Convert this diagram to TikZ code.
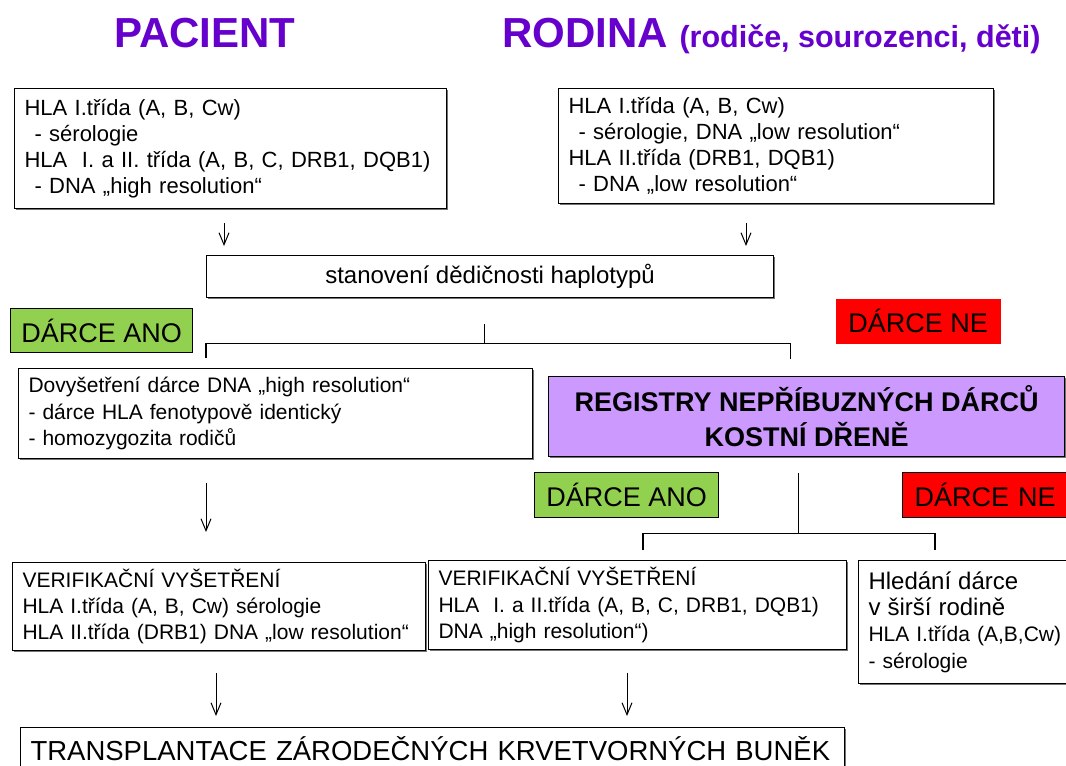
\documentclass[tikz,border=0pt]{standalone}
\usepackage{fontspec}
\setmainfont{Liberation Sans}
\usetikzlibrary{arrows.meta,shadows}
\definecolor{titlepurple}{HTML}{6600CC}
\definecolor{regpurple}{HTML}{CC99FF}
\definecolor{anogreen}{HTML}{92D050}
\definecolor{nered}{HTML}{FF0000}
\begin{document}
\begin{tikzpicture}[x=1pt,y=-1pt,
    box/.style={draw, line width=1.1pt, fill=white, anchor=north west, align=left,
      inner xsep=10pt, inner ysep=0pt,
      drop shadow={shadow xshift=1pt, shadow yshift=-1.5pt, fill=black!55, opacity=1},
      font=\fontsize{22}{26}\selectfont},
    smallbox/.style={box, font=\fontsize{21}{26.3}\selectfont},
    tag/.style={draw, line width=1.1pt, anchor=north west, inner sep=0pt,
      font=\fontsize{27}{30}\selectfont},
    title/.style={text=titlepurple, font=\fontsize{42}{46}\selectfont\bfseries},
    arr/.style={-{Straight Barb[length=12pt,width=10pt]}, line width=1pt},
    tree/.style={line width=1.1pt}]
  \useasboundingbox (0,0) rectangle (1066,766);
  \clip (0,0) rectangle (1066,766);
  % Titles
  \node[title, anchor=base] (pactitle) at (205,47) {PACIENT};
  \node[title, anchor=base west, inner sep=0pt] (famtitle) at (502,47)
    {RODINA \fontsize{30.5}{34}\selectfont(rodiče, sourozenci, děti)};
  % HLA typing of patient and family
  \node[box, text width=412pt, minimum height=120pt] (pac) at (14,88)
    {HLA I.třída (A, B, Cw)\\\hspace{10pt}- sérologie\\HLA \ I. a II. třída (A, B, C, DRB1, DQB1)\\\hspace{10pt}- DNA „high resolution“};
  \node[box, text width=415pt, minimum height=115pt] (fam) at (558,88)
    {HLA I.třída (A, B, Cw)\\\hspace{10pt}- sérologie, DNA „low resolution“\\HLA II.třída (DRB1, DQB1)\\\hspace{10pt}- DNA „low resolution“};
  \node[box, align=center, minimum width=567pt, minimum height=42pt,
    font=\fontsize{24}{28}\selectfont] (hap) at (206,255) {stanovení dědičnosti haplotypů};
  % Family donor found / not found
  \node[tag, fill=anogreen, minimum width=182pt, minimum height=44pt] (ano1) at (10,308) {DÁRCE ANO};
  \node[tag, draw=none, fill=nered, minimum width=165pt, minimum height=45pt] (ne1) at (835,298) {DÁRCE NE};
  \node[smallbox, text width=494pt, minimum height=90pt] (dov) at (18,368)
    {Dovyšetření dárce DNA „high resolution“\\- dárce HLA fenotypově identický\\- homozygozita rodičů};
  \node[box, fill=regpurple, align=center, minimum width=516pt, minimum height=80pt,
    font=\fontsize{27}{35}\selectfont\bfseries] (reg) at (548,376)
    {REGISTRY NEPŘÍBUZNÝCH DÁRCŮ\\KOSTNÍ DŘENĚ};
  % Unrelated donor found / not found
  \node[tag, fill=anogreen, minimum width=184pt, minimum height=45pt] (ano2) at (534,472) {DÁRCE ANO};
  \node[tag, fill=nered, minimum width=180pt, minimum height=45pt, text width=156pt, align=left, inner xsep=12pt] (ne2) at (902,472) {DÁRCE NE};
  % Verification
  \node[smallbox, text width=393pt, minimum height=88pt] (ver1) at (12,562)
    {VERIFIKAČNÍ VYŠETŘENÍ\\HLA I.třída (A, B, Cw) sérologie\\HLA II.třída (DRB1) DNA „low resolution“};
  \node[smallbox, text width=398pt, minimum height=89pt] (ver2) at (428,560)
    {VERIFIKAČNÍ VYŠETŘENÍ\\HLA \ I. a II.třída (A, B, C, DRB1, DQB1)\\DNA „high resolution“)};
  \node[smallbox, text width=210pt, minimum height=123pt] (hle) at (858,560)
    {{\fontsize{24}{29}\selectfont Hledání dárce\\v širší rodině}\\HLA I.třída (A,B,Cw)\\- sérologie};
  \node[box, text width=804pt, minimum height=42pt, font=\fontsize{27.5}{30}\selectfont] (tra) at (20,727)
    {TRANSPLANTACE ZÁRODEČNÝCH KRVETVORNÝCH BUNĚK};
  % Arrows
  \draw[arr] ([xshift=210pt, yshift=-14pt]pac.south west) -- ([xshift=18pt, yshift=9pt]hap.north west);
  \draw[arr] ([xshift=188pt, yshift=-19pt]fam.south west) -- ([xshift=540pt, yshift=9pt]hap.north west);
  \draw[arr] ([xshift=188pt, yshift=-24pt]dov.south west) -- ([xshift=194pt, yshift=30pt]ver1.north west);
  \draw[arr] ([xshift=204pt, yshift=-22pt]ver1.south west) -- ([xshift=196pt, yshift=11pt]tra.north west);
  \draw[arr] ([xshift=199pt, yshift=-23pt]ver2.south west) -- ([xshift=607pt, yshift=11pt]tra.north west);
  % Branching after haplotypes
  \coordinate (fork1) at ([xshift=-5.5pt, yshift=-45pt]hap.south);
  \draw[tree] ([xshift=-5.5pt, yshift=-26pt]hap.south) -- (fork1);
  \draw[tree] ([yshift=10pt]dov.north west -| hap.south west) |- (fork1)
    -| ([xshift=300.5pt, yshift=-61pt]hap.south);
  % Branching after registry
  \coordinate (fork2) at ([xshift=-8pt, yshift=-76pt]reg.south);
  \draw[tree] ([xshift=-8pt, yshift=-16pt]reg.south) -- (fork2);
  \draw[tree] ([xshift=215pt, yshift=10pt]ver2.north west) |- (fork2)
    -| ([xshift=77pt, yshift=10pt]hle.north west);
\end{tikzpicture}
\end{document}
